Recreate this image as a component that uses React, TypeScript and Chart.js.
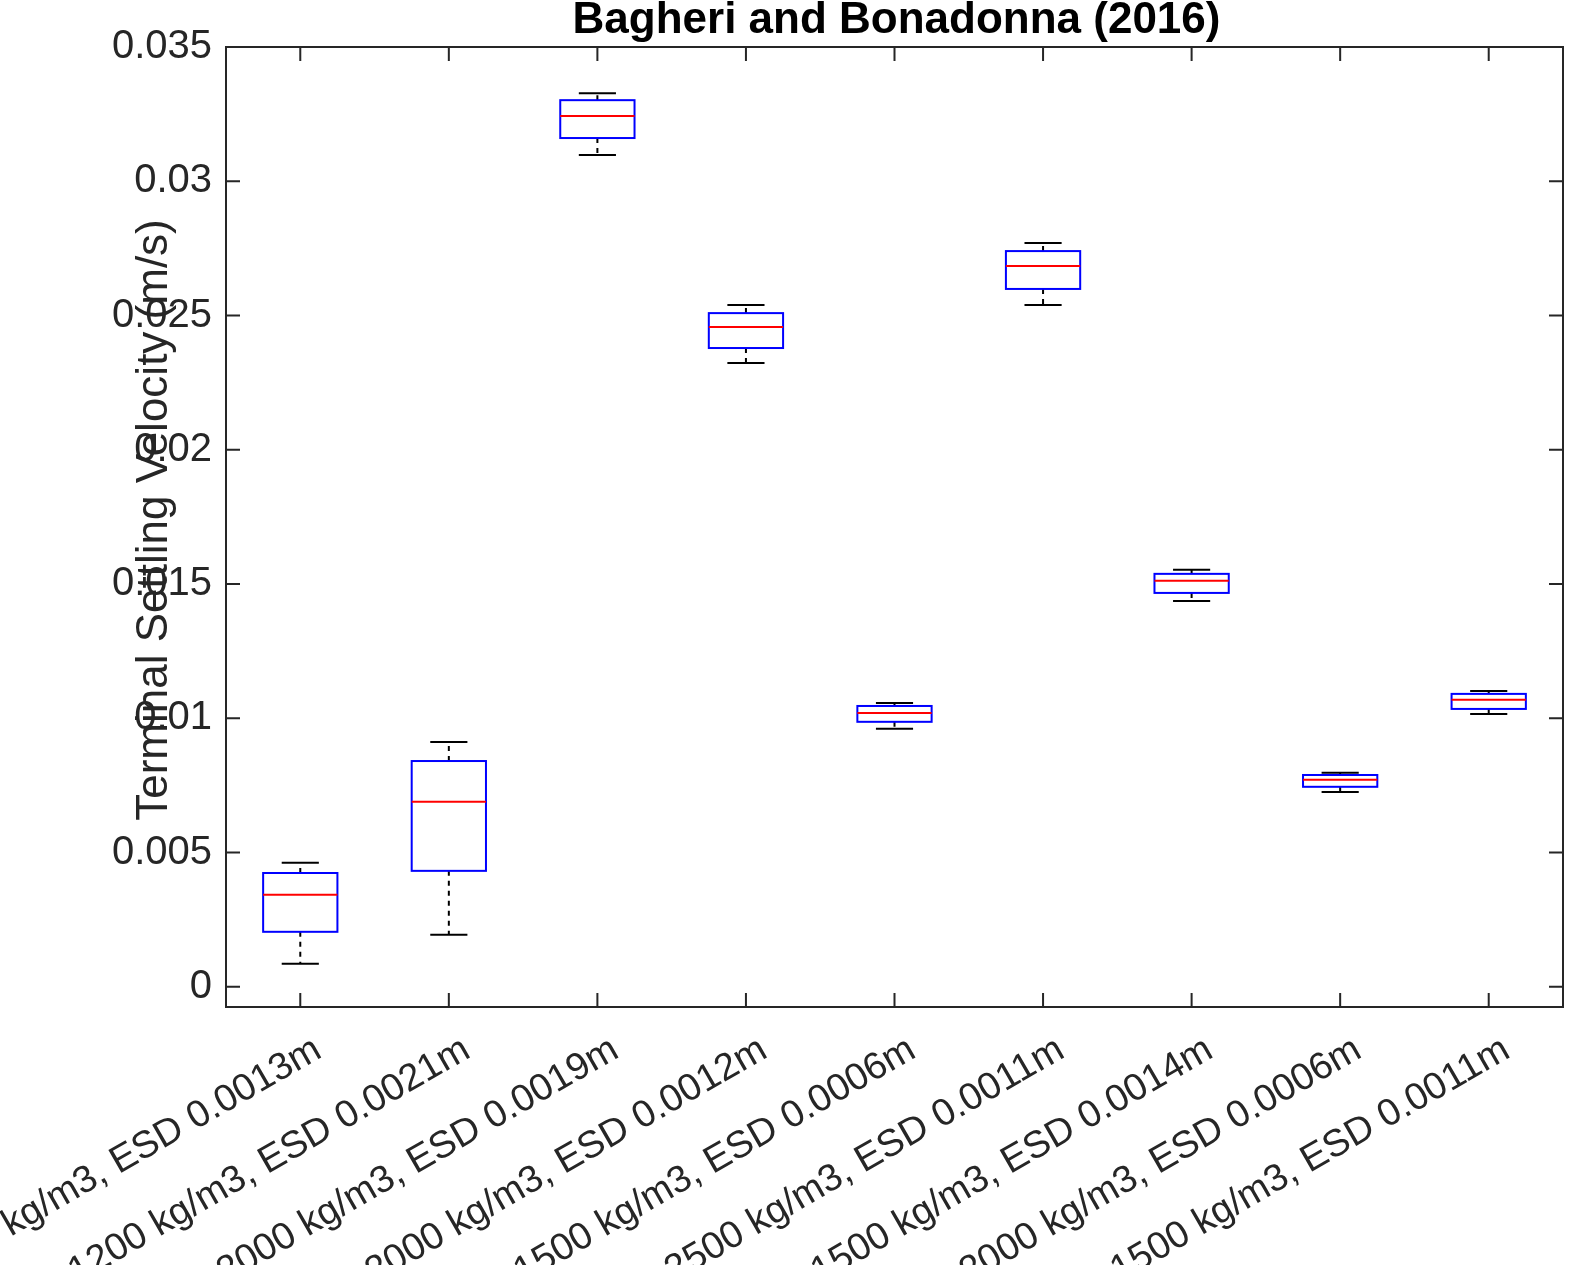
import { useEffect, useRef } from "react";
import { Chart, registerables } from "chart.js";
Chart.register(...registerables);

const categories = [
  "Density 2500 kg/m3, ESD 0.0013m",
  "Density 1200 kg/m3, ESD 0.0021m",
  "Density 2000 kg/m3, ESD 0.0019m",
  "Density 2000 kg/m3, ESD 0.0012m",
  "Density 1500 kg/m3, ESD 0.0006m",
  "Density 2500 kg/m3, ESD 0.0011m",
  "Density 1500 kg/m3, ESD 0.0014m",
  "Density 2000 kg/m3, ESD 0.0006m",
  "Density 1500 kg/m3, ESD 0.0011m",
];
const whiskerLow = [0.00086, 0.00194, 0.03098, 0.02323, 0.00961, 0.02539, 0.01437, 0.00726, 0.01016];
const q1 = [0.00205, 0.00432, 0.03161, 0.02379, 0.00987, 0.02599, 0.01467, 0.00745, 0.01035];
const median = [0.00343, 0.00689, 0.03243, 0.02457, 0.0102, 0.02684, 0.01512, 0.00771, 0.01069];
const q3 = [0.00424, 0.00841, 0.03302, 0.02509, 0.01046, 0.0274, 0.01538, 0.00789, 0.01091];
const whiskerHigh = [0.00462, 0.00912, 0.03328, 0.02539, 0.01057, 0.0277, 0.01553, 0.00797, 0.01102];
const yTicks = [0, 0.005, 0.01, 0.015, 0.02, 0.025, 0.03, 0.035];

const FONT = "'Liberation Sans', Arial, sans-serif";
const TEXT = "#262626";

const boxPlugin = {
  id: "boxDraw",
  afterDatasetsDraw(chart: Chart) {
    const ctx = chart.ctx;
    const x = chart.scales.x;
    const y = chart.scales.y;
    const area = chart.chartArea;
    const step = x.getPixelForValue(1) - x.getPixelForValue(0);
    const half = step / 4;
    const cap = step / 8;
    ctx.save();
    categories.forEach((_, i) => {
      const cx = x.getPixelForValue(i);
      // whiskers
      ctx.strokeStyle = "#000";
      ctx.lineWidth = 2;
      ctx.setLineDash([5, 5]);
      ctx.beginPath();
      ctx.moveTo(cx, y.getPixelForValue(q3[i]));
      ctx.lineTo(cx, y.getPixelForValue(whiskerHigh[i]));
      ctx.moveTo(cx, y.getPixelForValue(q1[i]));
      ctx.lineTo(cx, y.getPixelForValue(whiskerLow[i]));
      ctx.stroke();
      ctx.setLineDash([]);
      ctx.beginPath();
      for (const v of [whiskerHigh[i], whiskerLow[i]]) {
        const py = y.getPixelForValue(v);
        ctx.moveTo(cx - cap, py);
        ctx.lineTo(cx + cap, py);
      }
      ctx.stroke();
      // box
      const top = y.getPixelForValue(q3[i]);
      const bot = y.getPixelForValue(q1[i]);
      ctx.strokeStyle = "#0000ff";
      ctx.strokeRect(cx - half, top, half * 2, bot - top);
      // median
      const my = y.getPixelForValue(median[i]);
      ctx.strokeStyle = "#ff0000";
      ctx.beginPath();
      ctx.moveTo(cx - half, my);
      ctx.lineTo(cx + half, my);
      ctx.stroke();
    });
    // frame and inward ticks
    ctx.strokeStyle = "#262626";
    ctx.lineWidth = 2;
    ctx.strokeRect(area.left, area.top, area.right - area.left, area.bottom - area.top);
    const tl = 14;
    ctx.beginPath();
    yTicks.forEach((v) => {
      const py = y.getPixelForValue(v);
      ctx.moveTo(area.left, py);
      ctx.lineTo(area.left + tl, py);
      ctx.moveTo(area.right, py);
      ctx.lineTo(area.right - tl, py);
    });
    categories.forEach((_, i) => {
      const px = x.getPixelForValue(i);
      ctx.moveTo(px, area.bottom);
      ctx.lineTo(px, area.bottom - tl);
      ctx.moveTo(px, area.top);
      ctx.lineTo(px, area.top + tl);
    });
    ctx.stroke();
    // x labels
    ctx.fillStyle = TEXT;
    ctx.font = `38px ${FONT}`;
    ctx.textAlign = "right";
    ctx.textBaseline = "middle";
    categories.forEach((c, i) => {
      const px = x.getPixelForValue(i);
      ctx.save();
      ctx.translate(px + 18, area.bottom + 40);
      ctx.rotate(-Math.PI / 6);
      ctx.fillText(c, 0, 0);
      ctx.restore();
    });
    // y label
    ctx.save();
    ctx.font = `44px ${FONT}`;
    ctx.textAlign = "center";
    ctx.textBaseline = "middle";
    ctx.translate(area.left - 71, (area.top + area.bottom) / 2 - 7);
    ctx.rotate(-Math.PI / 2);
    ctx.fillText("Terminal Settling Velocity (m/s)", 0, 0);
    ctx.restore();
    // title
    ctx.font = `bold 44px ${FONT}`;
    ctx.textAlign = "center";
    ctx.textBaseline = "middle";
    ctx.fillStyle = "#000";
    ctx.fillText("Bagheri and Bonadonna (2016)", (area.left + area.right) / 2 + 2, area.top - 26);
    ctx.restore();
  },
};

export default function App() {
  const canvasRef = useRef<HTMLCanvasElement>(null);
  const chartRef = useRef<Chart | null>(null);

  useEffect(() => {
    document.body.style.margin = "0";
    if (!canvasRef.current) return;
    if (chartRef.current) chartRef.current.destroy();
    chartRef.current = new Chart(canvasRef.current, {
      type: "bar",
      data: {
        labels: categories,
        datasets: [{ data: median.map(() => null), backgroundColor: "transparent" }],
      },
      options: {
        responsive: false,
        animation: false,
        layout: { padding: { top: 47, right: 26, left: 0, bottom: 0 } },
        plugins: { legend: { display: false }, tooltip: { enabled: false }, title: { display: false } },
        scales: {
          x: {
            offset: true,
            grid: { display: false },
            border: { display: false },
            ticks: { display: false },
            afterFit: (s: any) => {
              s.height = 258;
            },
          },
          y: {
            min: -0.00075,
            max: 0.035,
            grid: { display: false },
            border: { display: false },
            afterBuildTicks: (s: any) => {
              s.ticks = yTicks.map((v) => ({ value: v }));
            },
            ticks: {
              color: TEXT,
              padding: 6,
              font: { size: 40, family: FONT },
              callback: (v: any) => String(Number(v)),
            },
            afterFit: (s: any) => {
              s.width = 226;
            },
          },
        },
      },
      plugins: [boxPlugin],
    });
    return () => {
      chartRef.current?.destroy();
    };
  }, []);

  return <canvas ref={canvasRef} width={1589} height={1265} style={{ display: "block" }} />;
}
